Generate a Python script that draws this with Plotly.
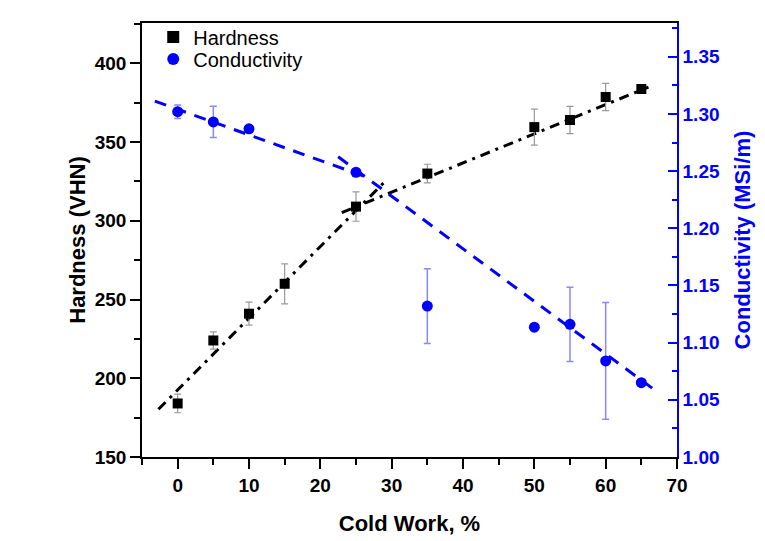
import plotly.graph_objects as go

# Data
cold_work = [0, 5, 10, 15, 25, 35, 50, 55, 60, 65]
hardness = [184, 224, 241, 260, 309, 330, 359.5, 364, 378.6, 383.7]
hardness_err = [5.9, 5.5, 7.3, 12.7, 9.3, 5.9, 11.4, 8.6, 8.7, 0]

cond_x = [0, 5, 10, 25, 35, 50, 55, 60, 65]
conductivity = [1.302, 1.293, 1.287, 1.249, 1.132, 1.1135, 1.116, 1.084, 1.065]
cond_err = [0.0059, 0.0136, 0, 0, 0.0327, 0, 0.0324, 0.051, 0]

# Linear fit segments (endpoints)
hard_fit1_x = [-2.7, 29.3]
hard_fit1_y = [180.3, 326.0]
hard_fit2_x = [23.0, 66.0]
hard_fit2_y = [305.2, 384.9]
cond_fit1_x = [-3.2, 27.0]
cond_fit1_y = [1.3112, 1.2436]
cond_fit2_x = [22.5, 67.0]
cond_fit2_y = [1.2625, 1.058]

FONT = "Arial, Liberation Sans, sans-serif"
BLUE = "#0000ff"

fig = go.Figure()

fig.add_trace(go.Scatter(x=hard_fit1_x, y=hard_fit1_y, mode="lines",
                         line=dict(color="black", width=3, dash="10px,6px,3px,6px"),
                         showlegend=False, hoverinfo="skip"))
fig.add_trace(go.Scatter(x=hard_fit2_x, y=hard_fit2_y, mode="lines",
                         line=dict(color="black", width=3, dash="10px,6px,3px,6px"),
                         showlegend=False, hoverinfo="skip"))
fig.add_trace(go.Scatter(x=cond_fit1_x, y=cond_fit1_y, mode="lines", yaxis="y2",
                         line=dict(color=BLUE, width=3, dash="12px,9px"),
                         showlegend=False, hoverinfo="skip"))
fig.add_trace(go.Scatter(x=cond_fit2_x, y=cond_fit2_y, mode="lines", yaxis="y2",
                         line=dict(color=BLUE, width=3, dash="12px,9px"),
                         showlegend=False, hoverinfo="skip"))

fig.add_trace(go.Scatter(x=cold_work, y=hardness, mode="markers", name="Hardness",
                         legend="legend",
                         marker=dict(symbol="square", size=10, color="black"),
                         error_y=dict(type="data", array=hardness_err, color="#999999",
                                      thickness=1.2, width=3.5)))
fig.add_trace(go.Scatter(x=cond_x, y=conductivity, mode="markers", name="Conductivity",
                         yaxis="y2", legend="legend2",
                         marker=dict(symbol="circle", size=11, color=BLUE),
                         error_y=dict(type="data", array=cond_err, color="#8888ff",
                                      thickness=1.5, width=3.5)))

fig.update_layout(
    width=765, height=541,
    margin=dict(l=142, r=88, t=23, b=84),
    paper_bgcolor="white", plot_bgcolor="white",
    font=dict(family=FONT, color="black"),
    showlegend=True,
    legend=dict(x=0.021, y=0.9677, xanchor="left", yanchor="middle",
                bgcolor="rgba(0,0,0,0)", font=dict(size=20, family=FONT),
                itemsizing="constant"),
    legend2=dict(x=0.021, y=0.917, xanchor="left", yanchor="middle",
                 bgcolor="rgba(0,0,0,0)", font=dict(size=20, family=FONT),
                 itemsizing="constant"),
    xaxis=dict(range=[-5, 70], showgrid=False, zeroline=False, automargin=False,
               showline=True, linecolor="black", linewidth=1.5, mirror=True,
               ticks="outside", ticklen=10, tickwidth=1.5, tickcolor="black",
               tick0=0, dtick=10,
               minor=dict(dtick=5, tick0=0, ticklen=6, tickwidth=1.5, ticks="outside", tickcolor="black"),
               tickfont=dict(size=19, family=FONT, weight="bold"),
               title=dict(text="Cold Work, %", font=dict(size=22, family=FONT, weight="bold"),
                          standoff=21)),
    yaxis=dict(range=[150, 425.6], showgrid=False, zeroline=False, automargin=False,
               showline=True, linecolor="black", linewidth=1.5,
               ticks="outside", ticklen=10, tickwidth=1.5, tickcolor="black",
               tick0=150, dtick=50,
               minor=dict(dtick=25, tick0=150, ticklen=6, tickwidth=1.5, ticks="outside", tickcolor="black"),
               tickfont=dict(size=19, family=FONT, weight="bold"),
               title=dict(text="Hardness (VHN)", font=dict(size=22, family=FONT, weight="bold"),
                          standoff=3)),
    yaxis2=dict(range=[1.0, 1.3795], overlaying="y", side="right", automargin=False,
                showgrid=False, zeroline=False,
                showline=True, linecolor=BLUE, linewidth=1.5,
                ticks="inside", ticklen=9, tickwidth=1.5, tickcolor=BLUE,
                tick0=1.0, dtick=0.05, tickformat=".2f",
                minor=dict(dtick=0.025, tick0=1.0, ticklen=5, tickwidth=1.5, ticks="inside", tickcolor=BLUE),
                tickfont=dict(size=19, family=FONT, color=BLUE, weight="bold"),
                title=dict(text="Conductivity (MSi/m)",
                           font=dict(size=22, family=FONT, color=BLUE, weight="bold"),
                           standoff=16)),
)

fig.write_html("out.html")
